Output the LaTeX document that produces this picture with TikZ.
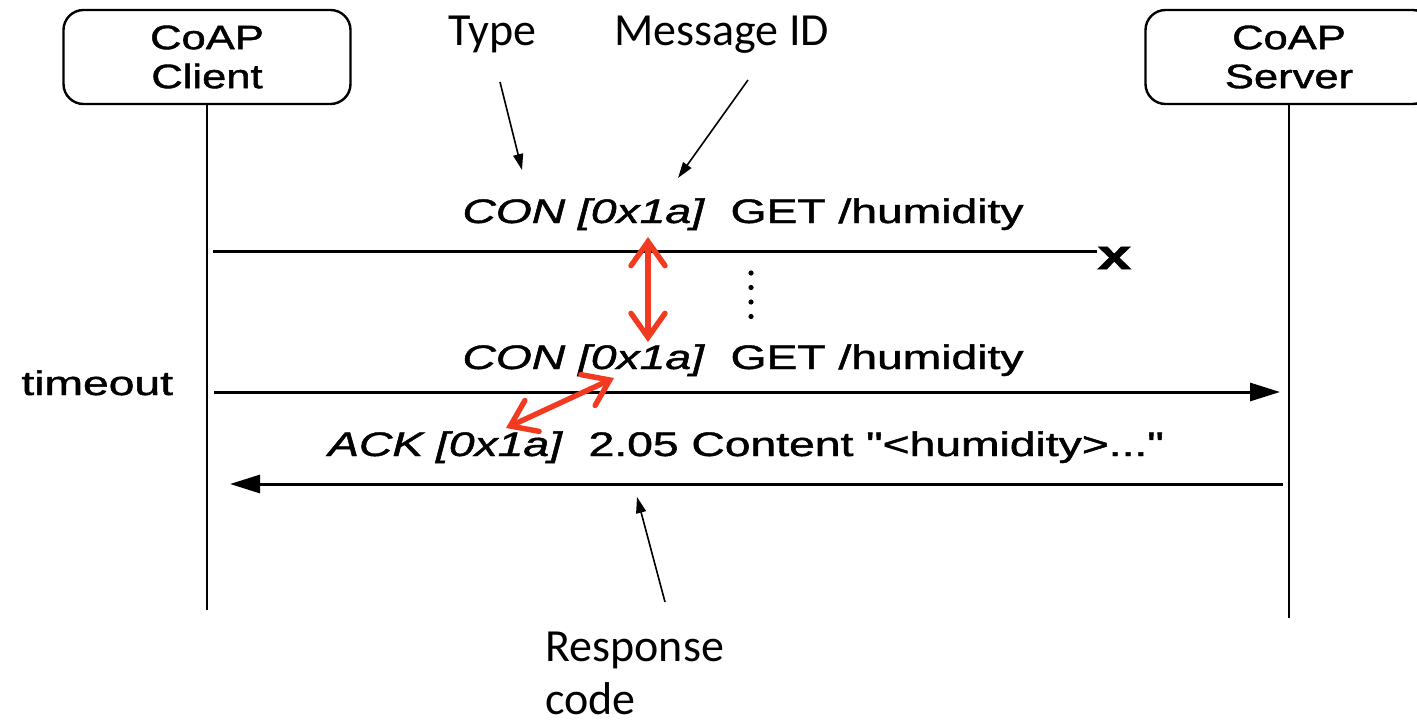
\documentclass[tikz,border=0pt]{standalone}
\usepackage{graphicx}
\usepackage{fontspec}
\setmainfont{Liberation Sans}[Ligatures=TeXOff, FakeBold=1.2]
\newfontfamily\notefont{Carlito}
\usetikzlibrary{arrows.meta}
\definecolor{idred}{RGB}{242,58,32}
% widened sans text used throughout the sequence chart
\newcommand{\wide}[1]{\scalebox{1.36}[1]{#1}}
\newcommand{\boxwide}[1]{\scalebox{1.28}[1]{#1}}

\begin{document}
\begin{tikzpicture}[x=0.5pt,y=-0.5pt,
  lifebox/.style={draw, line width=1.2pt, rounded corners=10pt,
    minimum width=143.5pt, minimum height=47pt, align=center,
    inner sep=0pt, font=\fontsize{17}{19.5}\selectfont},
  lifeline/.style={line width=1.1pt},
  msgline/.style={line width=1.5pt},
  msg/.style={msgline, -{Triangle[length=15pt,width=9pt]}},
  msgtext/.style={anchor=base, inner sep=0pt, font=\fontsize{17}{20}\selectfont},
  note/.style={anchor=base west, inner sep=0pt, font=\notefont\fontsize{23}{28}\selectfont},
  pointer/.style={line width=0.8pt, -{Triangle[length=8pt,width=5pt]}},
  redlink/.style={draw=idred, line width=2.7pt, line cap=round,
    {Straight Barb[length=12pt,width=17pt,line cap=round]}-{Straight Barb[length=12pt,width=17pt,line cap=round]}},
]
\useasboundingbox (0,0) rectangle (1417,727);

% participants
\node[lifebox] (client) at (207,57) {\boxwide{CoAP}\\\boxwide{Client}};
\begin{scope}
  \clip (0,0) rectangle (1417,727);
  \node[lifebox] (server) at (1289,57) {\boxwide{CoAP}\\\boxwide{Server}};
\end{scope}
\coordinate (clEnd) at (207,610);
\coordinate (svEnd) at (1289,618);
\draw[lifeline] (client.south) -- (clEnd);
\draw[lifeline] (server.south) -- (svEnd);

% first request, lost on the way
\node[msgtext] (t1) at (743,223) {\wide{\textit{CON [0x1a]}\ \ GET /humidity}};
\node[anchor=west, inner sep=0pt, font=\bfseries\fontsize{21}{21}\selectfont] (lost) at (1097,258) {\scalebox{1.45}[1]{x}};
\coordinate (m1a) at (213,251);
\draw[msgline] (m1a) -- (m1a -| lost.west);

% elided retransmissions
\foreach \yy in {273,287.5,302,316.5} \fill (751,\yy) circle (1.3pt);

% retransmitted request
\node[msgtext] (t2) at (743,369) {\wide{\textit{CON [0x1a]}\ \ GET /humidity}};
\coordinate (m2a) at (214,392);
\draw[msg, shorten >=4.5pt] (m2a) -- (m2a -| svEnd);
\node[msgtext, anchor=base west] (timeout) at (21,395) {\wide{timeout}};

% piggybacked response
\node[msgtext] (t3) at (746,456) {\wide{\textit{ACK [0x1a]}\ \ 2.05 Content "<humidity>..."}};
\coordinate (m3a) at (1283,484);
\coordinate (m3b) at (230,484);
\draw[msg] (m3a) -- (m3b);

% annotations
\node[note] (type) at (448,46) {Type};
\node[note] (msgid) at (614,46) {Message ID};
\node[note] (resp) at (545,661) {Response};
\node[note] (code) at (545,714) {code};

\coordinate (typeFrom) at (500,82);
\coordinate (typeTip) at (522,170);
\coordinate (idFrom) at (748,80);
\coordinate (idTip) at (678,178);
\coordinate (respFrom) at (665,602);
\coordinate (respTip) at (637,497);
\draw[pointer] (typeFrom) -- (typeTip);
\draw[pointer] (idFrom) -- (idTip);
\draw[pointer] (respFrom) -- (respTip);

% matching message IDs
\coordinate (idA) at (648,237);
\coordinate (idB) at (648,342);
\coordinate (idC) at (614,378);
\coordinate (idD) at (506,428);
\draw[redlink] (idA) -- (idB);
\draw[redlink] (idC) -- (idD);
\end{tikzpicture}
\end{document}
